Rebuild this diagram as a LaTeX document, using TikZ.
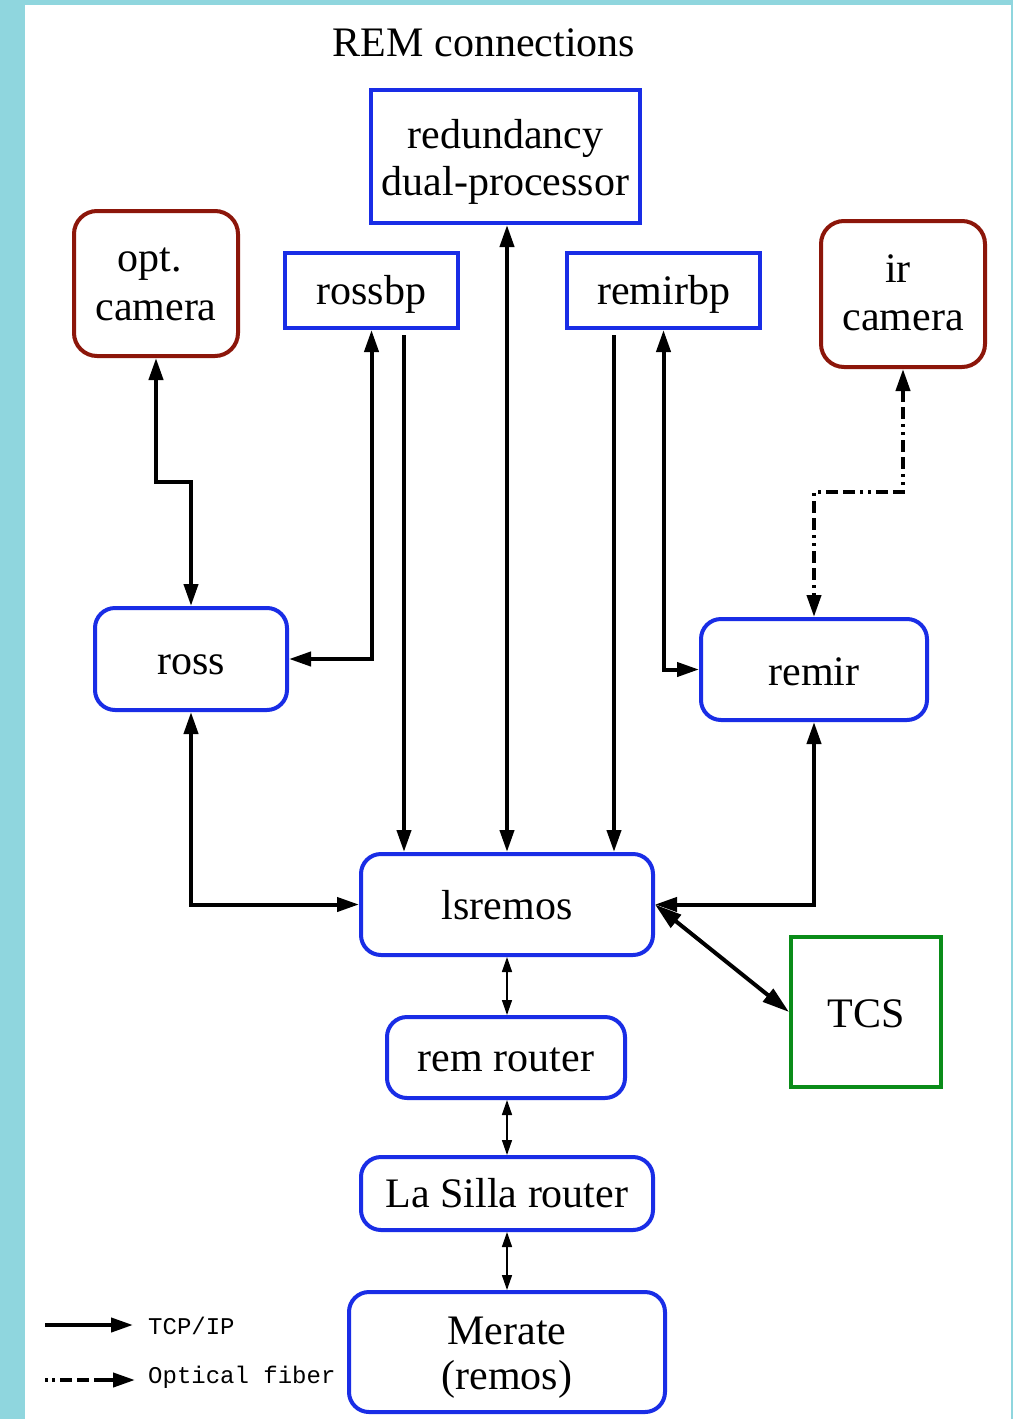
\documentclass[tikz,border=0pt]{standalone}
\usepackage{fontspec}
\setmainfont{Liberation Serif}
\newfontfamily\legendfont{Liberation Mono}
\usetikzlibrary{arrows.meta}
\definecolor{bgcyan}{RGB}{143,214,222}
\definecolor{boxblue}{RGB}{25,45,230}
\definecolor{boxred}{RGB}{140,22,10}
\definecolor{boxgreen}{RGB}{10,140,25}
% text line with its baseline #1 below the node centre
\newcommand\oneline[2]{\makebox[0pt]{\raisebox{-#1}[0pt][0pt]{#2}}}
\tikzset{
  base/.style={draw, line width=4pt, fill=white, inner sep=0pt,
    font=\fontsize{42}{48}\selectfont},
  sqbox/.style={base, draw=boxblue},
  rbox/.style={base, draw=boxblue, rounded corners=20pt},
  cambox/.style={base, draw=boxred, rounded corners=23pt},
  tcsbox/.style={base, draw=boxgreen},
  arr/.style={line width=4pt, {Triangle[length=22pt,width=14pt]}-{Triangle[length=22pt,width=14pt]}},
  onearr/.style={line width=4pt, -{Triangle[length=22pt,width=14pt]}},
  tcsarr/.style={line width=4pt, {Triangle[length=27pt,width=16pt]}-{Triangle[length=27pt,width=16pt]}},
  thinarr/.style={line width=1.5pt, {Triangle[length=15pt,width=10pt]}-{Triangle[length=15pt,width=10pt]}},
  fiber/.style={line width=4pt, dash pattern=on 12pt off 5pt on 12pt off 5pt on 3pt off 5pt on 3pt off 5pt},
  legendtxt/.style={inner sep=0pt, anchor=west, font=\legendfont\fontsize{24}{28}\selectfont}
}
\begin{document}
\begin{tikzpicture}[x=1pt,y=-1pt]
\useasboundingbox (0,0) rectangle (1013,1419);
\fill[bgcyan] (0,0) rectangle (1013,1419);
\fill[white] (25,5) rectangle (1011,1419);

\node[inner sep=0pt, font=\fontsize{42}{48}\selectfont] (title) at (484,43) {REM connections};

\node[sqbox, minimum width=269pt, minimum height=133pt] (red) at (505.5,156.5)
  {\oneline{-8.5pt}{redundancy}\oneline{38.5pt}{dual-processor}};
\node[sqbox, minimum width=173pt, minimum height=75pt] (rossbp) at (371.5,290.5) {\oneline{13.5pt}{rossbp}};
\node[sqbox, minimum width=193pt, minimum height=75pt] (remirbp) at (663.5,290.5) {\oneline{13.5pt}{remirbp}};
\node[cambox, minimum width=164pt, minimum height=145pt] (optcam) at (156,283.5)
  {\oneline{-11.8pt}{opt.\hspace{13pt}}\oneline{36.5pt}{camera}};
\node[cambox, minimum width=164pt, minimum height=146pt] (ircam) at (903,294)
  {\oneline{-12pt}{ir\hspace{10pt}}\oneline{36pt}{camera}};
\node[rbox, minimum width=192pt, minimum height=102pt] (ross) at (191,659) {\oneline{15.7pt}{ross}};
\node[rbox, minimum width=226pt, minimum height=101pt] (remir) at (814,669.5) {\oneline{16pt}{remir}};
\node[rbox, minimum width=292pt, minimum height=101pt] (lsremos) at (507,904.5) {\oneline{14.5pt}{lsremos}};
\node[tcsbox, minimum width=150pt, minimum height=150pt] (tcs) at (866,1012) {\oneline{15pt}{TCS}};
\node[rbox, minimum width=238pt, minimum height=81pt] (remrouter) at (506,1057.5) {\oneline{14pt}{rem router}};
\node[rbox, minimum width=292pt, minimum height=73pt] (lasilla) at (507,1193.5) {\oneline{13.8pt}{La Silla router}};
\node[rbox, minimum width=316pt, minimum height=120pt] (merate) at (507,1352)
  {\oneline{-8pt}{Merate}\oneline{37pt}{(remos)}};

% connectors
\draw[arr] (optcam.south) -- ++(0,124) -| (ross.north);
\draw[arr] (rossbp.south) |- (ross.east);
\coordinate (rb2) at ([xshift=32.5pt,yshift=-5pt]rossbp.south);
\draw[onearr] (rb2) -- (rb2 |- lsremos.north);
\coordinate (rd) at ([xshift=1.5pt]red.south);
\draw[arr] (rd) -- (rd |- lsremos.north);
\coordinate (rm2) at ([xshift=-49.5pt,yshift=-5pt]remirbp.south);
\draw[onearr] (rm2) -- (rm2 |- lsremos.north);
\draw[arr] (remirbp.south) |- (remir.west);
\draw[arr, fiber] (ircam.south) -- ++(0,123) -| (remir.north);
\draw[arr] (ross.south) |- (lsremos.west);
\draw[arr] (remir.south) |- (lsremos.east);
\draw[tcsarr] (lsremos.east) -- (tcs.west);
\draw[thinarr] (lsremos.south) -- (lsremos.south |- remrouter.north);
\draw[thinarr] (lasilla.north) -- (lasilla.north |- remrouter.south);
\draw[thinarr] (lasilla.south) -- (merate.north);

% legend
\coordinate (la) at (45,1325);
\coordinate (lb) at (133,1325);
\draw[onearr] (la) -- (lb);
\node[legendtxt] (ltcp) at (148,1326) {TCP/IP};
\coordinate (lc) at (45,1380);
\coordinate (ld) at (135,1380);
\draw[onearr, dash pattern=on 3pt off 4pt on 3pt off 5pt on 12pt off 5pt on 12pt off 5pt on 30pt] (lc) -- (ld);
\node[legendtxt] (lopt) at (148,1377) {Optical fiber};
\end{tikzpicture}
\end{document}
